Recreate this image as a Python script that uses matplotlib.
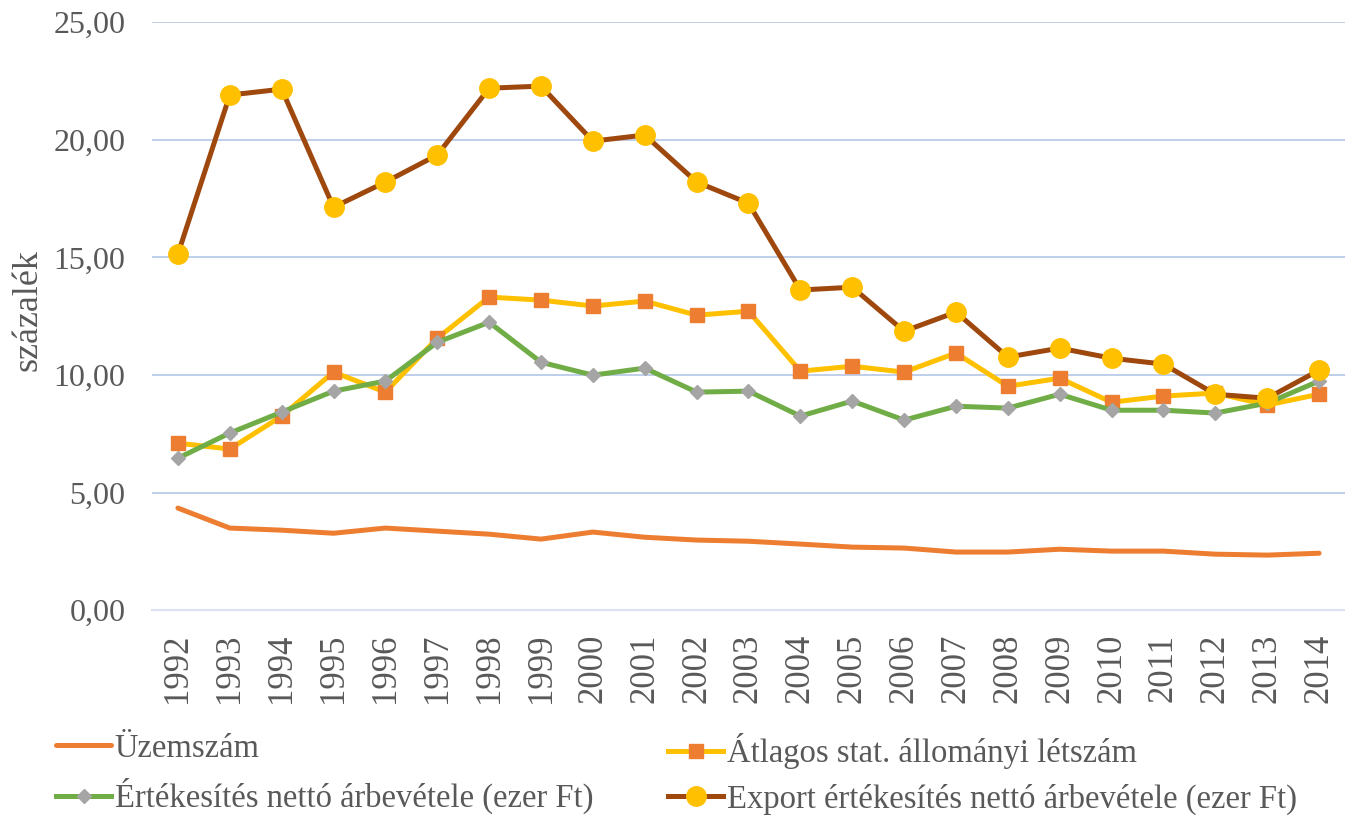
import numpy as np
import matplotlib.pyplot as plt
from matplotlib.ticker import FuncFormatter

plt.rcParams['font.family'] = ['Liberation Serif', 'DejaVu Serif']

evek = list(range(1992, 2015))
uzemszam = [4.34, 3.49, 3.40, 3.27, 3.49, 3.36, 3.23, 3.02, 3.32, 3.10, 2.98, 2.93,
            2.81, 2.68, 2.64, 2.47, 2.47, 2.59, 2.51, 2.51, 2.38, 2.34, 2.42]
letszam = [7.10, 6.85, 8.25, 10.12, 9.27, 11.56, 13.31, 13.18, 12.93, 13.14, 12.54, 12.71,
           10.16, 10.37, 10.12, 10.93, 9.52, 9.86, 8.84, 9.10, 9.23, 8.72, 9.18]
arbevetel = [6.46, 7.53, 8.42, 9.31, 9.74, 11.39, 12.24, 10.54, 9.99, 10.29, 9.27, 9.31,
             8.25, 8.89, 8.08, 8.67, 8.59, 9.18, 8.50, 8.50, 8.38, 8.80, 9.74]
export = [15.14, 21.90, 22.15, 17.13, 18.20, 19.35, 22.19, 22.28, 19.94, 20.20, 18.20, 17.30,
          13.61, 13.73, 11.86, 12.67, 10.76, 11.14, 10.71, 10.46, 9.18, 9.01, 10.20]

szurke = '#595959'
fig = plt.figure(figsize=(13.45, 8.19), dpi=100)
ax = fig.add_axes([0.113, 0.255, 0.887, 0.718])
x = np.arange(len(evek))

h1, = ax.plot(x, uzemszam, color='#ED7D31', lw=3.6, solid_capstyle='round', label='Üzemszám')
h2, = ax.plot(x, letszam, color='#FFC000', lw=3.6, marker='s', ms=10,
              mfc='#ED7D31', mec='#ED7D31', label='Átlagos stat. állományi létszám')
h3, = ax.plot(x, arbevetel, color='#70AD47', lw=3.6, marker='D', ms=7.5,
              mfc='#A5A5A5', mec='#A5A5A5', label='Értékesítés nettó árbevétele (ezer Ft)')
h4, = ax.plot(x, export, color='#9E480E', lw=3.6, marker='o', ms=14,
              mfc='#FFC000', mec='#FFC000', label='Export értékesítés nettó árbevétele (ezer Ft)')

ax.set_xlim(-0.5, len(evek) - 0.5)
ax.set_ylim(0, 25)
ax.set_yticks(np.arange(0, 26, 5))
ax.yaxis.set_major_formatter(FuncFormatter(lambda v, p: f'{v:.2f}'.replace('.', ',')))
ax.set_xticks(x)
ax.set_xticklabels([str(e) for e in evek], rotation=90)
ax.tick_params(axis='x', length=0, labelsize=25, colors=szurke, pad=17)
ax.tick_params(axis='y', length=0, labelsize=23, colors=szurke, pad=19)
ax.grid(axis='y', color='#B4C7E7', lw=1.2)
ax.set_axisbelow(True)
for s in ['top', 'right', 'left']:
    ax.spines[s].set_visible(False)
ax.spines['bottom'].set_color('#D9E1F2')
ax.spines['bottom'].set_linewidth(1.5)
ax.set_ylabel('százalék', fontsize=26, color=szurke)
ax.yaxis.set_label_coords((45 - 152) / 1193, 0.51)

common = dict(loc='upper left', frameon=False, fontsize=23.5, labelcolor=szurke,
              handlelength=1.7, handletextpad=0.1, borderpad=0, borderaxespad=0,
              labelspacing=0.45)
leg1 = fig.legend(handles=[h1, h3], bbox_to_anchor=(56 / 1345, 0.105), **common)
leg2 = fig.legend(handles=[h2, h4], bbox_to_anchor=(668 / 1345, 0.105), **common)
fig.savefig('out.png', dpi=100)
